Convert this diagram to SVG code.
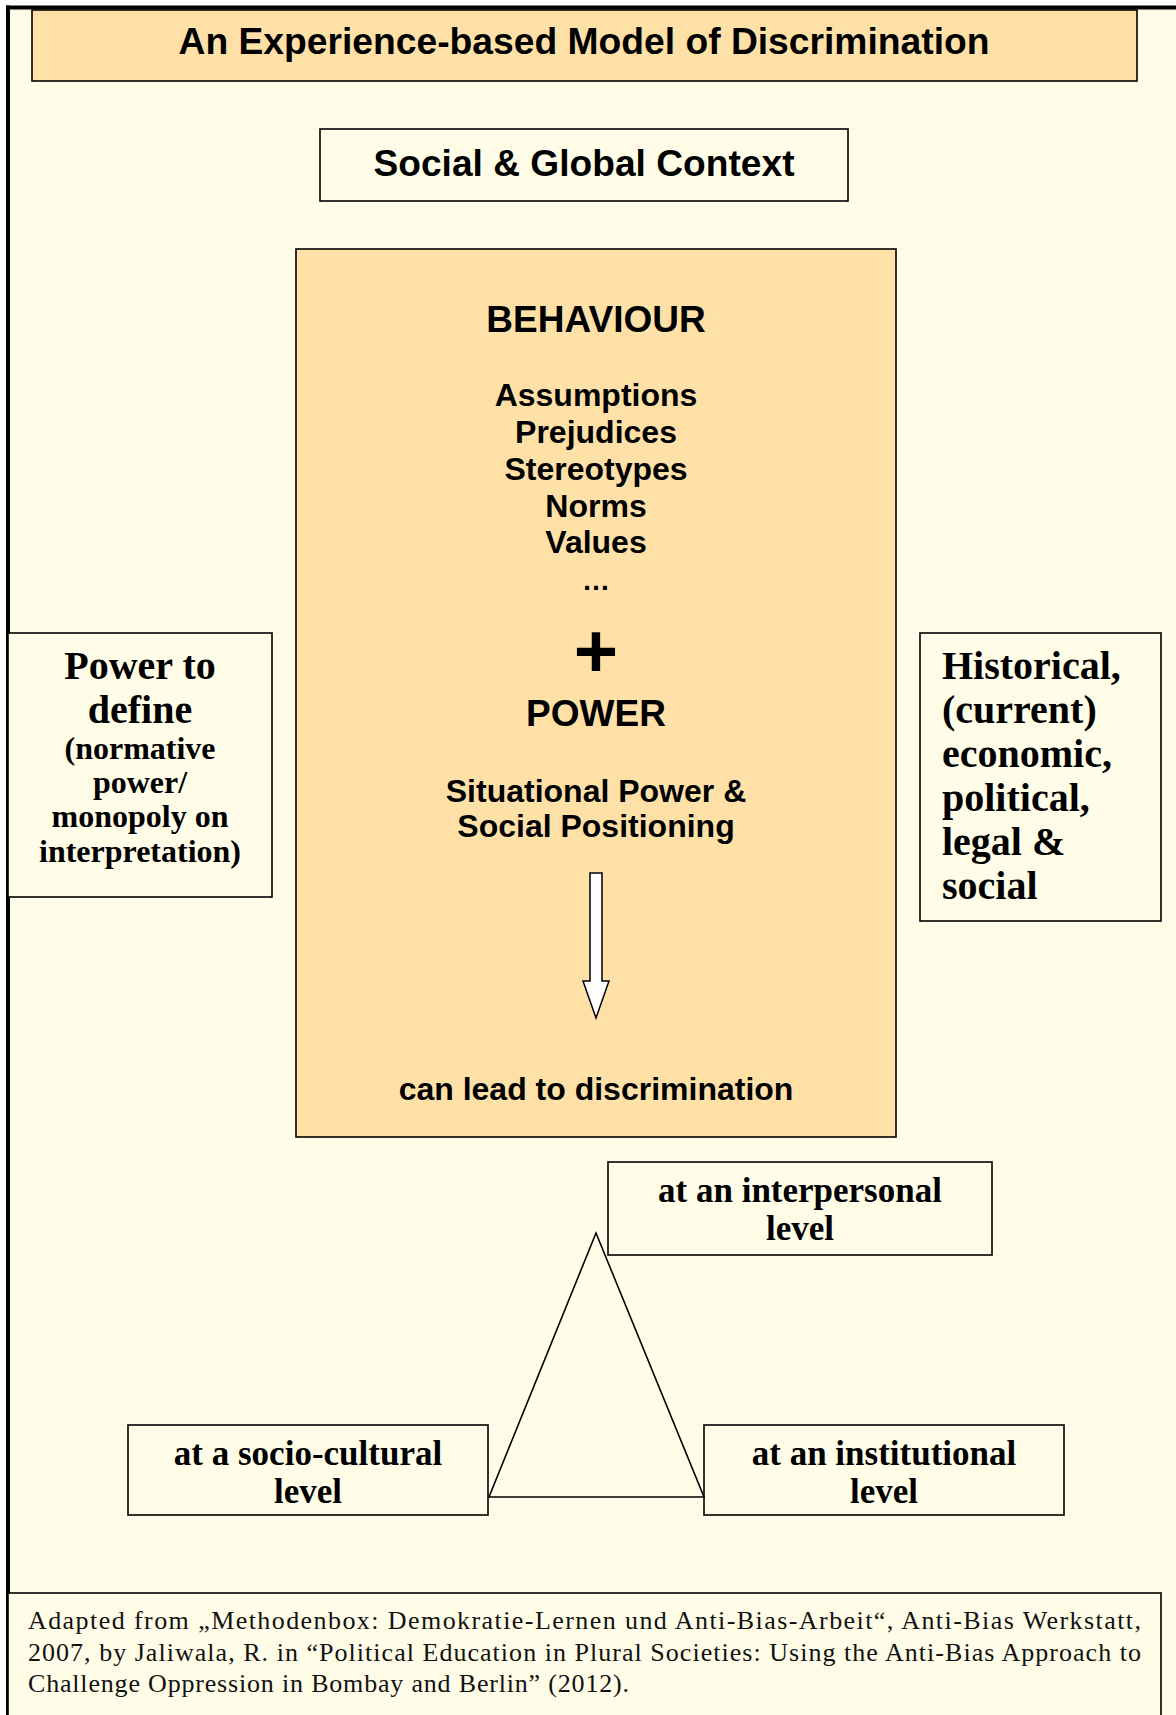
<svg xmlns="http://www.w3.org/2000/svg" width="1176" height="1715" viewBox="0 0 1176 1715">
<style>
.bg{fill:#FFFDE7}
.peach{fill:#FFE1A8;stroke:#000;stroke-width:1.6}
.box{fill:#FFFDE7;stroke:#000;stroke-width:1.6}
.sans{font-family:"Liberation Sans",Arial,sans-serif;font-weight:bold;fill:#000;text-anchor:middle}
.serif{font-family:"Liberation Serif","Times New Roman",serif;font-weight:bold;fill:#000}
.mid{text-anchor:middle}
.foot{font-family:"Liberation Serif","Times New Roman",serif;font-size:26px;fill:#111}
.line{fill:none;stroke:#000;stroke-width:1.6}
</style>
<rect x="0" y="0" width="1176" height="1715" fill="#FFFFFF"/>
<rect class="bg" x="8" y="7" width="1168" height="1708"/>
<g id="frame">
<line x1="6" y1="7.5" x2="1176" y2="7.5" stroke="#000" stroke-width="4"/>
<line x1="8" y1="5.5" x2="8" y2="1715" stroke="#000" stroke-width="4"/>
</g>
<g id="title">
<rect class="peach" x="32" y="10" width="1105" height="71"/>
<text class="sans" x="584" y="54" font-size="36" textLength="811" lengthAdjust="spacingAndGlyphs">An Experience-based Model of Discrimination</text>
</g>
<g id="context">
<rect class="box" x="320" y="129" width="528" height="72"/>
<text class="sans" x="584" y="176" font-size="36" textLength="421" lengthAdjust="spacingAndGlyphs">Social &amp; Global Context</text>
</g>
<g id="behaviour">
<rect class="peach" x="296" y="249" width="600" height="888"/>
<text class="sans" x="596" y="332" font-size="37">BEHAVIOUR</text>
<text class="sans" x="596" y="406" font-size="32">Assumptions</text>
<text class="sans" x="596" y="443" font-size="32">Prejudices</text>
<text class="sans" x="596" y="480" font-size="32">Stereotypes</text>
<text class="sans" x="596" y="517" font-size="32">Norms</text>
<text class="sans" x="596" y="553" font-size="32">Values</text>
<text class="sans" x="596" y="590" font-size="28">…</text>
<text class="sans" x="596" y="677" font-size="76">+</text>
<text class="sans" x="596" y="726" font-size="37">POWER</text>
<text class="sans" x="596" y="802" font-size="32">Situational Power &amp;</text>
<text class="sans" x="596" y="837" font-size="32">Social Positioning</text>
<text class="sans" x="596" y="1100" font-size="32">can lead to discrimination</text>
</g>
<g id="power-to-define">
<rect class="box" x="8" y="633" width="264" height="264"/>
<text class="serif mid" x="140" y="679" font-size="40">Power to</text>
<text class="serif mid" x="140" y="723" font-size="40">define</text>
<text class="serif mid" x="140" y="759" font-size="32">(normative</text>
<text class="serif mid" x="140" y="793" font-size="32">power/</text>
<text class="serif mid" x="140" y="827" font-size="32">monopoly on</text>
<text class="serif mid" x="140" y="862" font-size="32">interpretation)</text>
</g>
<g id="historical">
<rect class="box" x="920" y="633" width="241" height="288"/>
<text class="serif" x="942" y="679" font-size="40">Historical,</text>
<text class="serif" x="942" y="723" font-size="40">(current)</text>
<text class="serif" x="942" y="767" font-size="40">economic,</text>
<text class="serif" x="942" y="811" font-size="40">political,</text>
<text class="serif" x="942" y="855" font-size="40">legal &amp;</text>
<text class="serif" x="942" y="899" font-size="40">social</text>
</g>
<g id="interpersonal">
<rect class="box" x="608" y="1162" width="384" height="93"/>
<text class="serif mid" x="800" y="1202" font-size="35">at an interpersonal</text>
<text class="serif mid" x="800" y="1240" font-size="35">level</text>
</g>
<g id="socio-cultural">
<rect class="box" x="128" y="1425" width="360" height="90"/>
<text class="serif mid" x="308" y="1465" font-size="35">at a socio-cultural</text>
<text class="serif mid" x="308" y="1503" font-size="35">level</text>
</g>
<g id="institutional">
<rect class="box" x="704" y="1425" width="360" height="90"/>
<text class="serif mid" x="884" y="1465" font-size="35">at an institutional</text>
<text class="serif mid" x="884" y="1503" font-size="35">level</text>
</g>
<g id="connectors">
<polygon points="590,873 602,873 602,981 609,981 596,1018 583,981 590,981" fill="#FFFFFF" stroke="#000" stroke-width="1.5" stroke-linejoin="miter"/>
<polygon class="line" points="596,1233 489,1497 704,1497"/>
</g>
<g id="footnote">
<rect class="box" x="8" y="1593" width="1153" height="140"/>
<text class="foot" x="28" y="1629" textLength="1113" lengthAdjust="spacing">Adapted from „Methodenbox: Demokratie-Lernen und Anti-Bias-Arbeit“, Anti-Bias Werkstatt,</text>
<text class="foot" x="28" y="1661" textLength="1113" lengthAdjust="spacing">2007, by Jaliwala, R. in “Political Education in Plural Societies: Using the Anti-Bias Approach to</text>
<text class="foot" x="28" y="1692" textLength="601" lengthAdjust="spacing">Challenge Oppression in Bombay and Berlin” (2012).</text>
</g>
</svg>
